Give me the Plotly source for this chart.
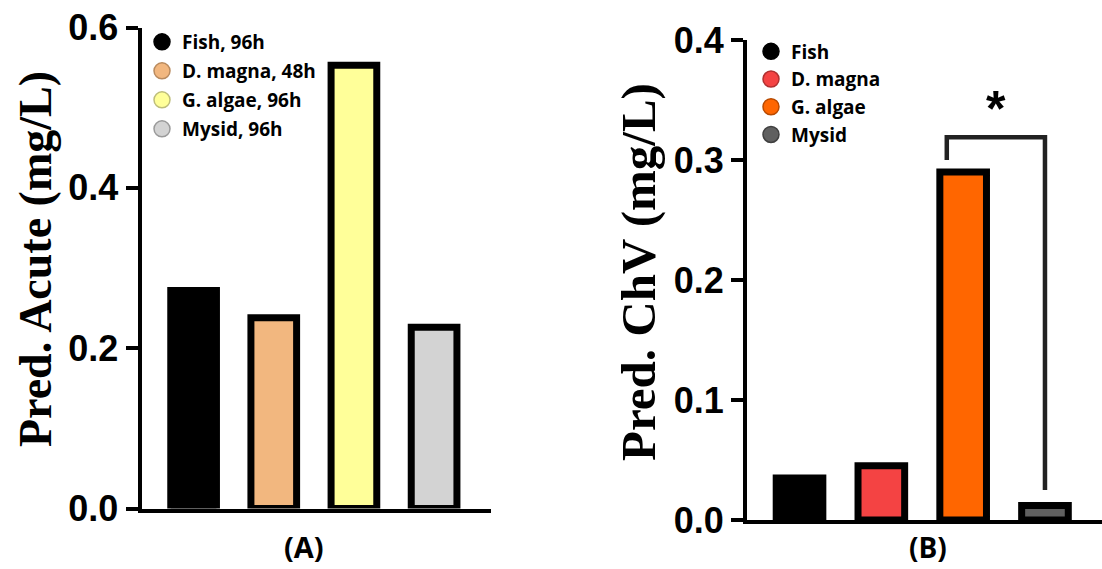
import plotly.graph_objects as go

W, H = 1102, 569

# ---------------- data ----------------
categories = ["Fish", "D. magna", "G. algae", "Mysid"]
legend_a = ["Fish, 96h", "D. magna, 48h", "G. algae, 96h", "Mysid, 96h"]
legend_b = ["Fish", "D. magna", "G. algae", "Mysid"]
acute_values = [0.272, 0.238, 0.553, 0.226]      # Pred. Acute (mg/L)
chv_values = [0.035, 0.0452, 0.290, 0.012]       # Pred. ChV (mg/L)
acute_ticks = [0.0, 0.2, 0.4, 0.6]
chv_ticks = [0.0, 0.1, 0.2, 0.3, 0.4]
sig_pair = ("G. algae", "Mysid")                 # significance bracket
sig_levels = {"top": 0.319, "left_end": 0.300, "right_end": 0.025, "star": 0.349}

# ---------------- styles ----------------
colors_a = ["#000000", "#F2B77F", "#FFFF99", "#D3D3D3"]
colors_b = ["#000000", "#F44343", "#FF6600", "#606060"]
leg_edge_a = ["#000000", "#B98A5E", "#BDBD7A", "#9A9A9A"]
leg_edge_b = ["#000000", "#B03030", "#B84A00", "#404040"]


def px(v, total):
    return v / total


fig = go.Figure()

xpos = list(range(len(categories)))
BAR_W = 0.57
LW = 7

# Panel A bars
for i, cat in enumerate(categories):
    fig.add_trace(go.Bar(
        x=[xpos[i]], y=[acute_values[i]], width=BAR_W,
        marker=dict(color=colors_a[i], line=dict(color="black", width=LW)),
        xaxis="x", yaxis="y", showlegend=False, hoverinfo="skip",
    ))
# Panel B bars
for i, cat in enumerate(categories):
    fig.add_trace(go.Bar(
        x=[xpos[i]], y=[chv_values[i]], width=BAR_W,
        marker=dict(color=colors_b[i], line=dict(color="black", width=LW)),
        xaxis="x2", yaxis="y2", showlegend=False, hoverinfo="skip",
    ))

# Legend proxies (circle symbols)
for i, name in enumerate(legend_a):
    fig.add_trace(go.Scatter(
        x=[None], y=[None], mode="markers", name=name,
        marker=dict(size=18, color=colors_a[i], line=dict(color=leg_edge_a[i], width=1.5)),
        xaxis="x", yaxis="y", legend="legend", legendgroup="a%d" % i,
    ))
for i, name in enumerate(legend_b):
    fig.add_trace(go.Scatter(
        x=[None], y=[None], mode="markers", name=name,
        marker=dict(size=18, color=colors_b[i], line=dict(color=leg_edge_b[i], width=1.5)),
        xaxis="x2", yaxis="y2", legend="legend2", legendgroup="b%d" % i,
    ))

# significance bracket (panel B)
i0 = categories.index(sig_pair[0])
i1 = categories.index(sig_pair[1])
xl = i0 - 0.2
xr = i1
fig.add_shape(
    type="path", xref="x2", yref="y2",
    path="M %f,%f L %f,%f L %f,%f L %f,%f" % (
        xl, sig_levels["left_end"], xl, sig_levels["top"],
        xr, sig_levels["top"], xr, sig_levels["right_end"]),
    line=dict(color="#222222", width=4.5),
)
fig.add_annotation(
    x=(xl + xr) / 2, y=sig_levels["star"], xref="x2", yref="y2",
    text="<b>*</b>", showarrow=False, xanchor="center", yanchor="middle", yshift=-8,
    font=dict(family="Liberation Sans, Arial", size=50, color="black"),
)

# axis titles & panel labels as annotations
fig.add_annotation(
    x=px(36, W), y=1 - px(259, H), xref="paper", yref="paper",
    text="<b>Pred. Acute (mg/L)</b>", textangle=-90, showarrow=False,
    xanchor="center", yanchor="middle",
    font=dict(family="Liberation Serif, Times New Roman", size=46, color="black"),
)
fig.add_annotation(
    x=px(638, W), y=1 - px(272, H), xref="paper", yref="paper",
    text="<b>Pred. ChV (mg/L)</b>", textangle=-90, showarrow=False,
    xanchor="center", yanchor="middle",
    font=dict(family="Liberation Serif, Times New Roman", size=49, color="black"),
)
fig.add_annotation(
    x=px(304, W), y=1 - px(546, H), xref="paper", yref="paper",
    text="<b>(A)</b>", showarrow=False, xanchor="center", yanchor="middle",
    font=dict(family="Open Sans", size=29, color="black"),
)
fig.add_annotation(
    x=px(928, W), y=1 - px(568, H), xref="paper", yref="paper",
    text="<b>(B)</b>", showarrow=False, xanchor="center", yanchor="bottom",
    font=dict(family="Open Sans", size=28, color="black"),
)

yaxis_common = dict(
    showline=True, linewidth=4, linecolor="black", mirror=False,
    ticks="outside", ticklen=12, tickwidth=4, tickcolor="black",
    showgrid=False, zeroline=False, tickformat=".1f", automargin=False,
    tickfont=dict(family="Liberation Sans, Arial", size=36, color="black", weight="bold"),
)
xaxis_common = dict(
    showline=True, linewidth=4, linecolor="black", ticks="",
    showticklabels=False, showgrid=False, zeroline=False, automargin=False,
)

legend_font = dict(family="Open Sans", size=19, color="black", weight="bold")

fig.update_layout(
    template="none",
    width=W, height=H,
    margin=dict(l=0, r=0, t=0, b=0, pad=0, autoexpand=False),
    paper_bgcolor="white", plot_bgcolor="white",
    barmode="overlay",
    xaxis=dict(domain=[px(141.5, W), px(491, W)], range=[-0.65, 3.71], anchor="y", **xaxis_common),
    yaxis=dict(domain=[1 - px(508.5, H), 1 - px(27.5, H)], range=[0, 0.6], tickvals=acute_ticks,
               anchor="x", **yaxis_common),
    xaxis2=dict(domain=[px(747, W), 1.0], range=[-0.642, 3.697], anchor="y2", **xaxis_common),
    yaxis2=dict(domain=[1 - px(520, H), 1 - px(40, H)], range=[0, 0.4], tickvals=chv_ticks,
                anchor="x2", **yaxis_common),
    legend=dict(
        x=px(142, W), y=1 - px(23, H), xanchor="left", yanchor="top",
        font=legend_font, borderwidth=0,
        bgcolor="rgba(0,0,0,0)", tracegroupgap=1.3, itemsizing="trace",
    ),
    legend2=dict(
        x=px(751, W), y=1 - px(32.5, H), xanchor="left", yanchor="top",
        font=legend_font, borderwidth=0,
        bgcolor="rgba(0,0,0,0)", tracegroupgap=0, itemsizing="trace",
    ),
    showlegend=True,
)

fig.write_html(
    "out.html",
    config={"displayModeBar": False},
    post_script="document.body.style.margin='0';document.body.style.overflow='hidden';",
)
